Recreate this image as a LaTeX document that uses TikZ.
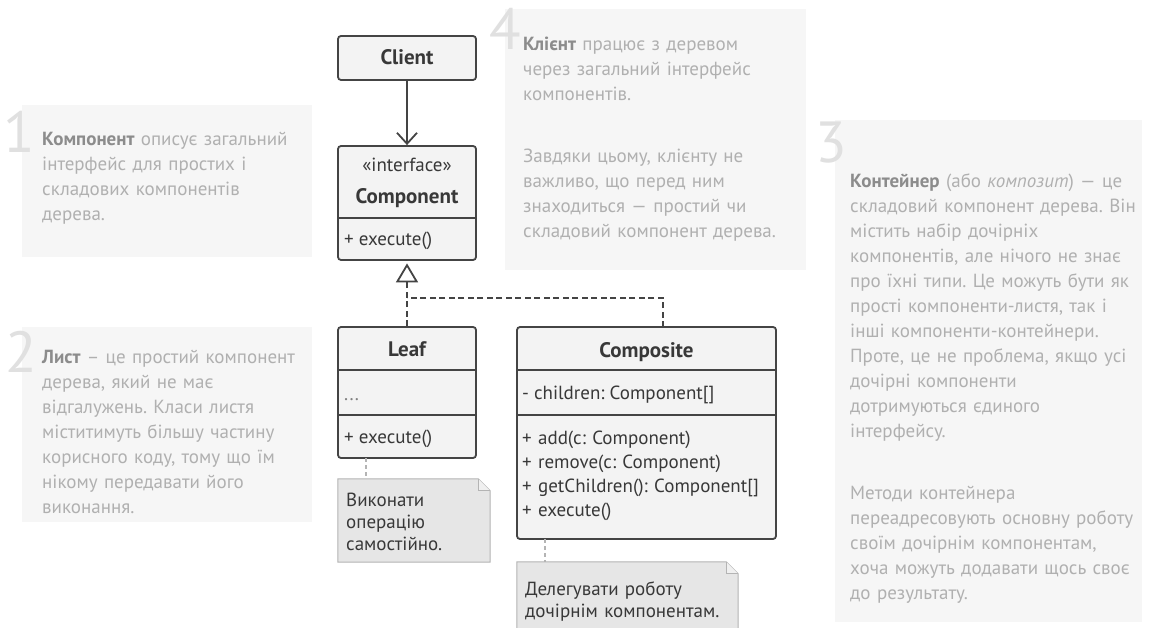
\documentclass[tikz,border=0pt]{standalone}
\usepackage{fontspec}
\setmainfont{PT Sans}
\usetikzlibrary{arrows.meta}

\definecolor{panelfill}{HTML}{F6F6F6}
\definecolor{digitgray}{HTML}{E0E0E0}
\definecolor{paneltext}{HTML}{B0B0B0}
\definecolor{panelbold}{HTML}{8C8C8C}
\definecolor{umlline}{HTML}{444444}
\definecolor{umlfill}{HTML}{F3F3F3}
\definecolor{umltext}{HTML}{383838}
\definecolor{notefill}{HTML}{E6E6E6}
\definecolor{notefold}{HTML}{F0F0F0}
\definecolor{noteline}{HTML}{B4B4B4}

\newcommand\kw[1]{\textbf{\color{panelbold}#1}}

\tikzset{
  panel/.style={fill=panelfill},
  digit/.style={text=digitgray, font=\fontsize{58}{58}\selectfont, anchor=base east, inner sep=0pt},
  ptext/.style={text=paneltext, font=\fontsize{19}{25}\selectfont, align=left,
                text width=420pt, anchor=base west, inner sep=0pt},
  umlbox/.style={draw=umlline, fill=umlfill, line width=1.8pt, rounded corners=3pt, inner sep=0pt},
  umltxt/.style={text=umltext, font=\fontsize{19}{24}\selectfont, inner sep=0pt},
  umltitle/.style={text=umltext, font=\fontsize{21}{24}\selectfont\bfseries, inner sep=0pt, anchor=base},
  divider/.style={draw=umlline, line width=1.8pt},
  assoc/.style={draw=umlline, line width=1.8pt, -{Straight Barb[length=11pt, width=20pt, line width=1.8pt]}},
  realize/.style={draw=umlline, line width=1.8pt, dash pattern=on 6pt off 3.5pt},
  notebox/.style={draw=noteline, fill=notefill, line width=1pt},
  notetxt/.style={text=umltext, font=\fontsize{19}{22}\selectfont, align=left,
                  text width=300pt, anchor=base west, inner sep=0pt},
  noteconn/.style={draw=noteline, line width=1.2pt, dash pattern=on 4pt off 3pt},
}

\begin{document}
\frenchspacing
\begin{tikzpicture}[x=1pt, y=-1pt]
  \useasboundingbox (0,0) rectangle (1161,628);
  \clip (0,0) rectangle (1161,628);
  \fill[white] (0,0) rectangle (1161,628);

  % explanation panels
  \fill[panel] (22,105) rectangle (312,257);
  \fill[panel] (22,327) rectangle (312,522);
  \fill[panel] (505,9) rectangle (806,270);
  \fill[panel] (835,120) rectangle (1142,622);

  \node[digit] (d1) at (35,153) {1};
  \node[digit] (d2) at (37,372) {2};
  \node[digit] (d4) at (521,50) {4};
  \node[digit] (d3) at (847,163) {3};

  \node[ptext] (t1) at (42,146) {\kw{Компонент} описує загальний\\
    інтерфейс для простих і\\
    складових компонентів\\
    дерева.};

  \node[ptext] (t2) at (42,363) {\kw{Лист} – це простий компонент\\
    дерева, який не має\\
    відгалужень. Класи листя\\
    міститимуть більшу частину\\
    корисного коду, тому що їм\\
    нікому передавати його\\
    виконання.};

  \node[ptext] (t4) at (523,51) {\kw{Клієнт} працює з деревом\\
    через загальний інтерфейс\\
    компонентів.\\[37pt]
    Завдяки цьому, клієнту не\\
    важливо, що перед ним\\
    знаходиться — простий чи\\
    складовий компонент дерева.};

  \node[ptext] (t3) at (850,188) {\kw{Контейнер} (або \textit{композит}) — це\\
    складовий компонент дерева. Він\\
    містить набір дочірніх\\
    компонентів, але нічого не знає\\
    про їхні типи. Це можуть бути як\\
    прості компоненти-листя, так і\\
    інші компоненти-контейнери.\\
    Проте, це не проблема, якщо усі\\
    дочірні компоненти\\
    дотримуються єдиного\\
    інтерфейсу.\\[37pt]
    Методи контейнера\\
    переадресовують основну роботу\\
    своїм дочірнім компонентам,\\
    хоча можуть додавати щось своє\\
    до результату.};

  % class boxes
  \node[umlbox, minimum width=138pt, minimum height=44pt] (client) at (407,58) {};
  \node[umltitle] (clientname) at (407,65) {Client};

  \node[umlbox, minimum width=138pt, minimum height=114pt] (comp) at (407,203) {};
  \draw[divider] (comp.west |- 0,218) -- (comp.east |- 0,218);
  \node[umltxt, anchor=base] (compst) at (407,172) {«interface»};
  \node[umltitle] (compname) at (407,204) {Component};
  \node[umltxt, anchor=base west] (compop) at (344,246) {+ execute()};

  \node[umlbox, minimum width=138pt, minimum height=131pt] (leaf) at (407,392.5) {};
  \draw[divider] (leaf.west |- 0,370) -- (leaf.east |- 0,370);
  \draw[divider] (leaf.west |- 0,415) -- (leaf.east |- 0,415);
  \node[umltitle] (leafname) at (407,356) {Leaf};
  \node[umltxt, text=gray, anchor=base west] (leafattr) at (344,400) {...};
  \node[umltxt, anchor=base west] (leafop) at (344,443) {+ execute()};

  \node[umlbox, minimum width=259pt, minimum height=212pt] (composite) at (646.5,433) {};
  \draw[divider] (composite.west |- 0,370) -- (composite.east |- 0,370);
  \draw[divider] (composite.west |- 0,415) -- (composite.east |- 0,415);
  \node[umltitle] (compositename) at (646.5,357) {Composite};
  \node[umltxt, anchor=base west] (compositeattr) at (522,399) {- children: Component[]};
  \node[umltxt, align=left, anchor=base west, text width=250pt] (compositeops) at (522,444)
    {+ add(c: Component)\\+ remove(c: Component)\\+ getChildren(): Component[]\\+ execute()};

  % relations
  \draw[assoc] (client) -- (comp);
  \coordinate (junction) at (407,298);
  \coordinate (ctop) at (663,327);
  \draw[realize, -{Triangle[open, length=19pt, width=22pt, line width=1.8pt]}, shorten >=2.5pt]
    (leaf.north) -- (comp.south);
  \draw[realize] (ctop) |- (junction);

  % notes
  \node[minimum width=152pt, minimum height=83pt, inner sep=0pt] (lnote) at (414,520.5) {};
  \draw[notebox] (lnote.south west) -- (lnote.north west) -- ([xshift=-12pt]lnote.north east)
    -- ([yshift=-12pt]lnote.north east) -- (lnote.south east) -- cycle;
  \draw[notebox, fill=notefold] ([xshift=-12pt]lnote.north east) -- ([xshift=-12pt,yshift=-12pt]lnote.north east)
    -- ([yshift=-12pt]lnote.north east);
  \node[notetxt] (lnotetxt) at (346,506) {Виконати\\операцію\\самостійно.};

  \node[minimum width=221pt, minimum height=80pt, inner sep=0pt] (cnote) at (627.5,602) {};
  \draw[notebox] (cnote.south west) -- (cnote.north west) -- ([xshift=-12pt]cnote.north east)
    -- ([yshift=-12pt]cnote.north east) -- (cnote.south east) -- cycle;
  \draw[notebox, fill=notefold] ([xshift=-12pt]cnote.north east) -- ([xshift=-12pt,yshift=-12pt]cnote.north east)
    -- ([yshift=-12pt]cnote.north east);
  \node[notetxt] (cnotetxt) at (525,595) {Делегувати роботу\\дочірнім компонентам.};

  \coordinate (lanchor) at (366,458);
  \coordinate (canchor) at (545,539);
  \draw[noteconn] (lanchor) -- (lanchor |- lnote.north);
  \draw[noteconn] (canchor) -- (canchor |- cnote.north);
\end{tikzpicture}
\end{document}
